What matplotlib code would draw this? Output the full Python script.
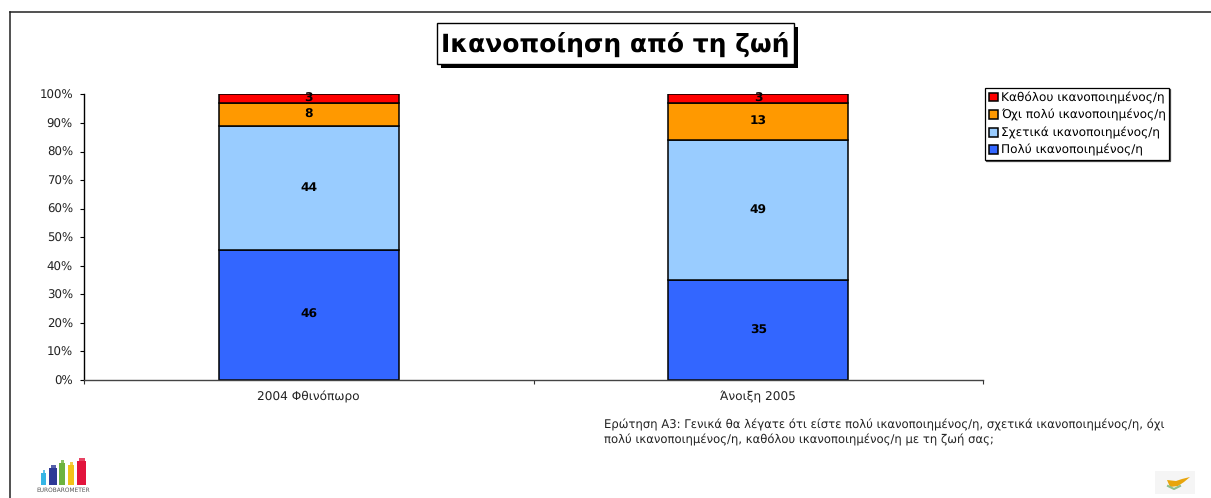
#! /usr/bin/python
#-*- coding: utf-8 -*-
import matplotlib
matplotlib.use('Agg')
import matplotlib.pyplot as plt
from matplotlib.patches import Rectangle, Polygon
import numpy as np

W, H = 1211, 498

categories = ['2004 Φθινόπωρο', 'Άνοιξη 2005']
series_names = ['Πολύ ικανοποιημένος/η', 'Σχετικά ικανοποιημένος/η',
                'Όχι πολύ ικανοποιημένος/η', 'Καθόλου ικανοποιημένος/η']
very = [46, 35]
fairly = [44, 49]
not_very = [8, 13]
not_at_all = [3, 3]
colors = ['#3366FF', '#99CCFF', '#FF9900', '#FF0000']
yticks = [0, 10, 20, 30, 40, 50, 60, 70, 80, 90, 100]

title = 'Ικανοποίηση από τη ζωή'
question = ('Ερώτηση Α3: Γενικά θα λέγατε ότι είστε πολύ ικανοποιημένος/η, σχετικά ικανοποιημένος/η, όχι\n'
            'πολύ ικανοποιημένος/η, καθόλου ικανοποιημένος/η με τη ζωή σας;')

plt.rcParams['font.family'] = ['DejaVu Sans']
plt.rcParams['text.hinting'] = 'none'

fig = plt.figure(figsize=(W / 100, H / 100), dpi=100)

# pixel overlay for the frame, title box and logos
bg = fig.add_axes([0, 0, 1, 1], zorder=0)
bg.set_xlim(0, W)
bg.set_ylim(H, 0)
bg.axis('off')
bg.plot([10, 10], [H, 12], color='#222222', lw=1.1)
bg.plot([10, W], [12, 12], color='#222222', lw=1.1)

# title box with hard shadow
bg.add_patch(Rectangle((441, 27), 357, 41, fc='black', ec='none'))
bg.add_patch(Rectangle((437, 23), 357, 41, fc='white', ec='black', lw=1))
bg.text(615.5, 44, title, ha='center', va='center', fontsize=18, fontweight='bold', color='black')

# eurobarometer logo
logo = [(41, 46, 470, '#35B5E5'), (49, 57, 465, '#2E3A96'), (59, 65, 460, '#6DB33F'),
        (68, 74, 462, '#F2C318'), (77, 86, 458, '#E2143C')]
for x0, x1, top, c in logo:
    bg.add_patch(Rectangle((x0, top + 3), x1 - x0, 485 - top - 3, fc=c, ec='none'))
    bg.add_patch(Rectangle((x0 + 1.5, top), x1 - x0 - 3, 3, fc=c, ec='none', alpha=0.8))
bg.text(63.5, 490.5, 'EUROBAROMETER', ha='center', va='center', fontsize=4.2, color='#555555')

# cyprus flag
bg.add_patch(Rectangle((1155, 471), 40, 23, fc='#F5F5F5', ec='none'))
bg.add_patch(Polygon([(1167, 480), (1176, 481), (1182, 479), (1190, 477), (1184, 482), (1178, 486),
                      (1170, 487)], fc='#E8A50C', ec='none'))
bg.plot([1168, 1174, 1180], [486, 489, 486], color='#8DBF8B', lw=1.5)

# chart
ax = fig.add_axes([84 / W, 1 - 380 / H, (983 - 84) / W, (380 - 94.5) / H], zorder=1)
ax.patch.set_alpha(0)
x = np.arange(len(categories))
stack = np.array([very, fairly, not_very, not_at_all], dtype=float)
pct = stack / stack.sum(axis=0) * 100

bottom = np.zeros(len(categories))
handles = []
for i, name in enumerate(series_names):
    b = ax.bar(x, pct[i], 0.4, bottom=bottom, color=colors[i], edgecolor='black', linewidth=1.1, label=name)
    handles.append(b)
    for j in x:
        ax.text(j, bottom[j] + pct[i][j] / 2, '%d' % stack[i][j], ha='center', va='center',
                fontsize=8.8, fontweight='bold', color='black')
    bottom += pct[i]

ax.set_xlim(-0.5, 1.5)
ax.set_ylim(0, 100)
ax.set_yticks(yticks)
ax.set_yticklabels(['%d%%' % v for v in yticks], fontsize=8.5, color='#222222')
ax.set_xticks([-0.5, 0.5, 1.5])
ax.set_xticklabels([])
ax.set_xticks(x, minor=True)
ax.set_xticklabels(categories, minor=True, fontsize=8.7, color='#222222')
ax.tick_params(axis='x', which='minor', length=0, pad=8)
ax.tick_params(axis='x', which='major', length=3, width=0.8, color='#333333')
ax.tick_params(axis='y', length=3, width=0.8, pad=5)
for s in ['top', 'right']:
    ax.spines[s].set_visible(False)
ax.spines['left'].set_linewidth(1)
ax.spines['bottom'].set_linewidth(1)
ax.spines['bottom'].set_color('#444444')

leg = ax.legend(handles[::-1], series_names[::-1], loc='upper left',
                bbox_to_anchor=(985 / W, 1 - 88 / H), bbox_transform=fig.transFigure,
                fancybox=False, framealpha=1, edgecolor='black', borderaxespad=0,
                fontsize=8.75, handlelength=0.8, handleheight=0.75, handletextpad=0.2,
                labelspacing=0.45, borderpad=0.3, shadow={'ox': 0.6, 'oy': -0.6, 'fc': '#777777', 'alpha': 1})
leg.get_frame().set_linewidth(0.9)

fig.text(604 / W, 1 - 432 / H, question, ha='left', va='center', fontsize=8.42, color='#222222', linespacing=1.3)

plt.savefig('out.png', dpi=100)
